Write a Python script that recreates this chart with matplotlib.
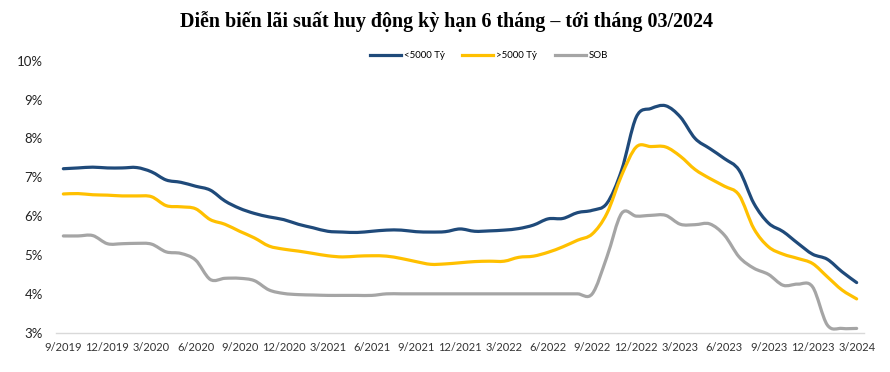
import matplotlib
matplotlib.use("Agg")
import matplotlib.pyplot as plt
from matplotlib.path import Path
from matplotlib.patches import PathPatch
from matplotlib.lines import Line2D

title = "Diễn biến lãi suất huy động kỳ hạn 6 tháng – tới tháng 03/2024"
series_names = ["<5000 Tỷ", ">5000 Tỷ", "SOB"]
colors = ["#1F4A7A", "#FFC000", "#A5A5A5"]

# monthly values 9/2019 .. 3/2024
small_banks = [7.22, 7.24, 7.26, 7.24, 7.24, 7.25, 7.14, 6.93, 6.87, 6.77,
               6.67, 6.39, 6.20, 6.07, 5.98, 5.91, 5.79, 5.70, 5.61, 5.59,
               5.58, 5.61, 5.64, 5.64, 5.60, 5.59, 5.60, 5.67, 5.61, 5.62,
               5.64, 5.68, 5.77, 5.93, 5.94, 6.09, 6.15, 6.33, 7.18, 8.55,
               8.77, 8.84, 8.55, 8.00, 7.74, 7.48, 7.18, 6.33, 5.82, 5.60,
               5.30, 5.02, 4.89, 4.57, 4.29]
large_banks = [6.57, 6.58, 6.55, 6.54, 6.52, 6.52, 6.50, 6.27, 6.24, 6.19,
               5.91, 5.79, 5.61, 5.44, 5.23, 5.15, 5.10, 5.04, 4.98, 4.95,
               4.97, 4.98, 4.97, 4.91, 4.83, 4.76, 4.77, 4.80, 4.83, 4.84,
               4.84, 4.94, 4.97, 5.07, 5.21, 5.38, 5.54, 6.07, 7.05, 7.78,
               7.79, 7.78, 7.54, 7.20, 6.97, 6.77, 6.54, 5.68, 5.21, 5.02,
               4.91, 4.78, 4.44, 4.10, 3.87]
sob = [5.49, 5.49, 5.50, 5.29, 5.29, 5.30, 5.28, 5.08, 5.04, 4.87,
       4.37, 4.40, 4.40, 4.34, 4.10, 4.01, 3.98, 3.97, 3.96, 3.96,
       3.96, 3.96, 4.00, 4.00, 4.00, 4.00, 4.00, 4.00, 4.00, 4.00,
       4.00, 4.00, 4.00, 4.00, 4.00, 4.00, 4.00, 4.95, 6.07, 6.00,
       6.02, 6.02, 5.79, 5.78, 5.80, 5.51, 4.95, 4.66, 4.50, 4.22,
       4.25, 4.18, 3.20, 3.11, 3.11]

x_tick_labels = ["9/2019", "12/2019", "3/2020", "6/2020", "9/2020", "12/2020",
                 "3/2021", "6/2021", "9/2021", "12/2021", "3/2022", "6/2022",
                 "9/2022", "12/2022", "3/2023", "6/2023", "9/2023", "12/2023",
                 "3/2024"]
y_ticks = [3, 4, 5, 6, 7, 8, 9, 10]
y_tick_labels = ["3%", "4%", "5%", "6%", "7%", "8%", "9%", "10%"]

FONT = ["Lato", "DejaVu Sans"]
plt.rcParams["font.family"] = FONT


def smooth_path(xs, ys):
    n = len(xs)
    verts = [(xs[0], ys[0])]
    codes = [Path.MOVETO]
    for k in range(n - 1):
        p0 = k - 1 if k > 0 else k
        p3 = k + 2 if k + 2 < n else k + 1
        c1 = (xs[k] + (xs[k + 1] - xs[p0]) / 6.0, ys[k] + (ys[k + 1] - ys[p0]) / 6.0)
        c2 = (xs[k + 1] - (xs[p3] - xs[k]) / 6.0, ys[k + 1] - (ys[p3] - ys[k]) / 6.0)
        verts += [c1, c2, (xs[k + 1], ys[k + 1])]
        codes += [Path.CURVE4] * 3
    return Path(verts, codes)


fig = plt.figure(figsize=(8.9, 3.72), dpi=100)
ax = fig.add_axes([56 / 890, 1 - 332.7 / 372, (864 - 56) / 890, (332.7 - 60.7) / 372])

xs = list(range(len(small_banks)))
handles = []
for vals, col, name in zip([small_banks, large_banks, sob], colors, series_names):
    patch = PathPatch(smooth_path(xs, vals), fill=False, edgecolor=col, lw=2.3,
                      capstyle="round", joinstyle="round")
    ax.add_patch(patch)
    handles.append(Line2D([], [], color=col, lw=2.3, label=name))

ax.set_xlim(-0.5, len(xs) - 0.5)
ax.set_ylim(3, 10)
ax.set_xticks(xs[::3])
ax.set_xticklabels(x_tick_labels, fontsize=8, color="#333333")
ax.set_yticks(y_ticks)
ax.set_yticklabels(y_tick_labels, fontsize=9.5, color="#222222")
ax.tick_params(axis="both", length=0)
ax.tick_params(axis="y", pad=9.5)
ax.tick_params(axis="x", pad=6.5)
for s in ["top", "right", "left"]:
    ax.spines[s].set_visible(False)
ax.spines["bottom"].set_color("#D9D9D9")
ax.spines["bottom"].set_linewidth(1.0)

fig.text(446 / 890, 1 - 22 / 372, title, ha="center", va="center",
         family="Liberation Serif", fontweight="bold", fontsize=14.4)

fig.legend(handles=handles, loc="center", bbox_to_anchor=(489 / 890, 1 - 56 / 372),
           ncol=3, frameon=False, fontsize=7, handlelength=3.2, handletextpad=0.3,
           columnspacing=1.8)

fig.savefig("out.png", dpi=100)
